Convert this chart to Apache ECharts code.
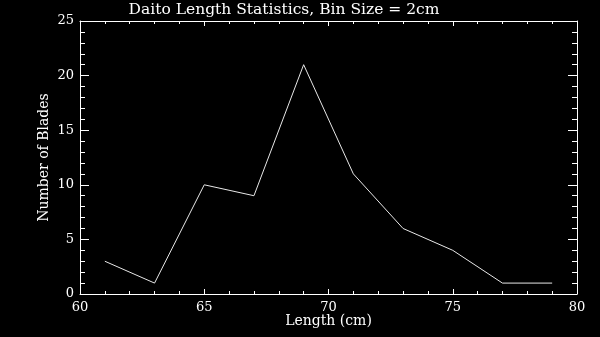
<!DOCTYPE html>
<html><head><meta charset="utf-8">
<script src="https://cdn.jsdelivr.net/npm/echarts@6/dist/echarts.min.js"></script>
<style>html,body{margin:0;padding:0;background:#000}#c{width:600px;height:337px}</style>
</head><body><div id="c"></div>
<script>
const titleText = "Daito Length Statistics, Bin Size = 2cm";
const xName = "Length (cm)";
const yName = "Number of Blades";
const lengths = [61, 63, 65, 67, 69, 71, 73, 75, 77, 79];
const counts = [3, 1, 10, 9, 21, 11, 6, 4, 1, 1];

const chart = echarts.init(document.getElementById('c'));
const fg = '#ffffff';
const lab = {color: fg, fontFamily: 'DejaVu Serif', fontSize: 13};
const nm = {color: fg, fontFamily: 'DejaVu Serif', fontSize: 14};
function axisBase(extra){
  return Object.assign({
    axisLine:{show:true, onZero:false, lineStyle:{color:fg, width:1}},
    splitLine:{show:false},
    minorSplitLine:{show:false}
  }, extra);
}
chart.setOption({
  backgroundColor:'#000',
  animation:false,
  title:{text:titleText, left:284, top:2, textAlign:'center', padding:0,
    textStyle:{color:fg, fontFamily:'DejaVu Serif', fontWeight:'normal', fontSize:15.5}},
  grid:{left:80, right:23, top:21, bottom:43, containLabel:false},
  xAxis:[
    axisBase({type:'value', position:'bottom', min:60, max:80, interval:5,
      name:xName, nameLocation:'middle', nameGap:20, nameMoveOverlap:false, nameTextStyle:nm,
      axisTick:{show:true, inside:true, length:5, lineStyle:{color:fg}},
      minorTick:{show:true, splitNumber:5, length:3, lineStyle:{color:fg}},
      axisLabel:Object.assign({margin:7}, lab)}),
    axisBase({type:'value', position:'top', min:60, max:80, interval:5,
      axisTick:{show:true, inside:true, length:5, lineStyle:{color:fg}},
      minorTick:{show:true, splitNumber:5, length:3, lineStyle:{color:fg}},
      axisLabel:{show:false}})
  ],
  yAxis:[
    axisBase({type:'value', position:'left', min:0, max:25, interval:5,
      name:yName, nameLocation:'middle', nameGap:29, nameMoveOverlap:false, nameTextStyle:nm,
      axisTick:{show:true, inside:true, length:9, lineStyle:{color:fg}},
      minorTick:{show:true, splitNumber:5, length:5, lineStyle:{color:fg}},
      axisLabel:Object.assign({margin:6}, lab)}),
    axisBase({type:'value', position:'right', min:0, max:25, interval:5,
      axisTick:{show:true, inside:true, length:9, lineStyle:{color:fg}},
      minorTick:{show:true, splitNumber:5, length:5, lineStyle:{color:fg}},
      axisLabel:{show:false}})
  ],
  series:[{
    type:'line', xAxisIndex:0, yAxisIndex:0,
    data: lengths.map((x,i)=>[x, counts[i]]),
    showSymbol:false, symbol:'none',
    lineStyle:{color:'#e8e8e8', width:1}
  }]
});
</script></body></html>
